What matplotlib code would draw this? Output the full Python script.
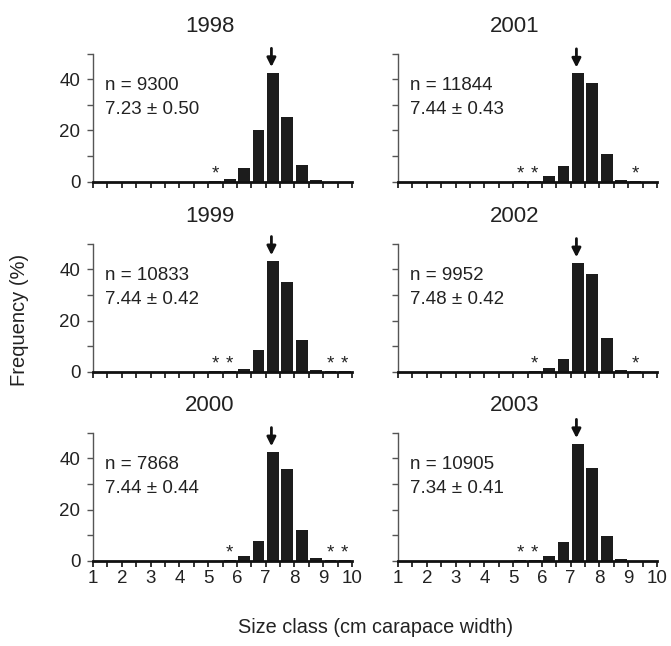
import numpy as np
import matplotlib.pyplot as plt

plt.rcParams['font.family'] = ['Liberation Sans', 'DejaVu Sans']

# size-class bins (cm), 0.5 cm wide, centres
bins = [5.25, 5.75, 6.25, 6.75, 7.25, 7.75, 8.25, 8.75, 9.25, 9.75]

years = ['1998', '1999', '2000', '2001', '2002', '2003']
n_obs = [9300, 10833, 7868, 11844, 9952, 10905]
means = ['7.23 \u00b1 0.50', '7.44 \u00b1 0.42', '7.44 \u00b1 0.44',
         '7.44 \u00b1 0.43', '7.48 \u00b1 0.42', '7.34 \u00b1 0.41']

freq_1998 = [0.1, 1.0, 5.2, 20.2, 42.6, 25.1, 6.5, 0.8, 0.0, 0.0]
freq_1999 = [0.1, 0.1, 0.9, 8.3, 43.3, 35.0, 12.2, 0.7, 0.1, 0.1]
freq_2000 = [0.0, 0.1, 2.0, 7.7, 42.5, 35.8, 11.9, 1.0, 0.1, 0.1]
freq_2001 = [0.1, 0.1, 2.3, 6.3, 42.4, 38.4, 10.7, 0.8, 0.1, 0.0]
freq_2002 = [0.0, 0.1, 1.6, 5.0, 42.5, 38.2, 13.2, 0.7, 0.1, 0.0]
freq_2003 = [0.1, 0.1, 2.0, 7.5, 45.7, 36.3, 9.8, 0.5, 0.0, 0.0]
freqs = [freq_1998, freq_1999, freq_2000, freq_2001, freq_2002, freq_2003]

# bins flagged with an asterisk (very small frequencies)
stars_1998 = [5.25]
stars_1999 = [5.25, 5.75, 9.25, 9.75]
stars_2000 = [5.75, 9.25, 9.75]
stars_2001 = [5.25, 5.75, 9.25]
stars_2002 = [5.75, 9.25]
stars_2003 = [5.25, 5.75]
stars = [stars_1998, stars_1999, stars_2000, stars_2001, stars_2002, stars_2003]

# arrow marks the modal class
arrow_x = 7.2

TXT = '#222222'
BAR = '#1c1c1c'
FS = 13.5

fig = plt.figure(figsize=(6.71, 6.46), dpi=100)

lefts = [93 / 671, 398 / 671]
bottoms = [1 - 181.7 / 646, 1 - 371.7 / 646, 1 - 560.7 / 646]
aw, ah = 259 / 671, 128 / 646

for i, yr in enumerate(years):
    col, row = i // 3, i % 3
    ax = fig.add_axes([lefts[col], bottoms[row], aw, ah])

    ax.bar(bins, freqs[i], width=0.41, color=BAR, edgecolor='none', zorder=2)
    for s in stars[i]:
        ax.text(s, 3.2, '*', ha='center', va='center', fontsize=13.5, color=TXT)

    top = max(freqs[i])
    ax.annotate('', xy=(arrow_x, top + 2.2), xytext=(arrow_x, top + 9.5),
                arrowprops=dict(arrowstyle='-|>', color='#111111', lw=2.0,
                                mutation_scale=13, shrinkA=0, shrinkB=0),
                annotation_clip=False)

    ax.text(1.42, 37.5, f'n = {n_obs[i]}', fontsize=FS, color=TXT, va='center')
    ax.text(1.42, 28.3, means[i], fontsize=FS, color=TXT, va='center')
    ax.text(5.05, 56.5, yr, fontsize=16, color=TXT, ha='center', va='bottom')

    ax.set_xlim(1, 10)
    ax.set_ylim(0, 50)
    ax.set_xticks(range(1, 11))
    ax.set_xticks(np.arange(1.5, 10, 1.0), minor=True)
    ax.set_yticks(range(0, 51, 10))
    if col == 0:
        ax.set_yticklabels(['0', '', '20', '', '40', ''])
    else:
        ax.set_yticklabels([])
    if row == 2:
        ax.set_xticklabels([str(v) for v in range(1, 11)])
    else:
        ax.set_xticklabels([])

    ax.tick_params(axis='x', which='both', direction='out', length=4, width=1.2,
                   color='#111111', labelsize=FS, labelcolor=TXT, pad=3)
    ax.tick_params(axis='y', direction='out', length=4, width=1,
                   color='#555555', labelsize=FS, labelcolor=TXT, pad=5)
    for side in ['top', 'right']:
        ax.spines[side].set_visible(False)
    ax.spines['bottom'].set_linewidth(2)
    ax.spines['bottom'].set_color('#111111')
    ax.spines['left'].set_linewidth(1)
    ax.spines['left'].set_color('#555555')
    ax.patch.set_alpha(0)

fig.text(0.029, 0.505, 'Frequency (%)', rotation=90, ha='center', va='center',
         fontsize=14.5, color=TXT)
fig.text(0.559, 0.028, 'Size class (cm carapace width)', ha='center',
         va='center', fontsize=14.3, color=TXT)

fig.savefig('out.png', dpi=100, facecolor='white')
